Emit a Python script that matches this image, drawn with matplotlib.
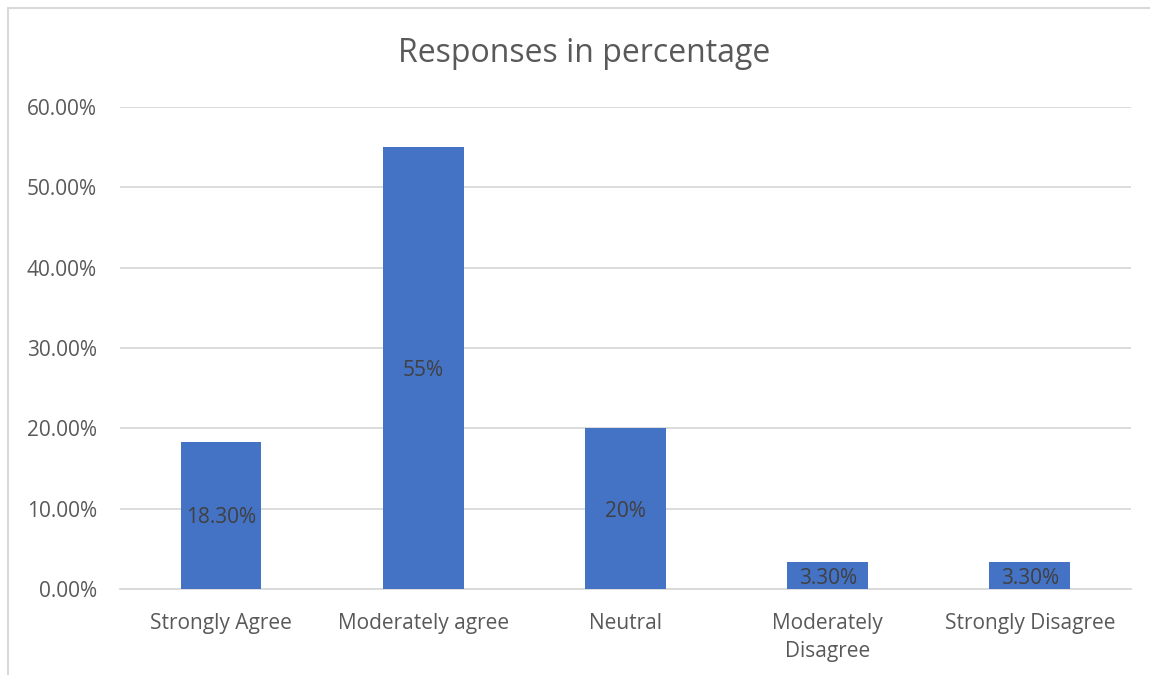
import matplotlib.pyplot as plt
from matplotlib.ticker import PercentFormatter
from matplotlib.patches import Rectangle

categories = ['Strongly Agree', 'Moderately agree', 'Neutral', 'Moderately\nDisagree', 'Strongly Disagree']
values = [0.183, 0.55, 0.20, 0.033, 0.033]
value_labels = ['18.30%', '55%', '20%', '3.30%', '3.30%']
yticks = [0.0, 0.1, 0.2, 0.3, 0.4, 0.5, 0.6]

plt.rcParams['font.family'] = ['Open Sans', 'DejaVu Sans']

fig = plt.figure(figsize=(11.5, 6.75), dpi=100)
ax = fig.add_axes([0.1043, 0.1274, 0.8792, 0.7141])

# chart area border
fig.patches.append(Rectangle((8 / 1150, -0.01), 1.2, 1 - 8 / 675 + 0.01, transform=fig.transFigure,
                             fill=False, edgecolor='#D9D9D9', linewidth=1.5))

x = range(len(categories))
bars = ax.bar(x, values, width=0.4, color='#4472C4', zorder=3)

for b, v, lab in zip(bars, values, value_labels):
    ax.text(b.get_x() + b.get_width() / 2, v / 2, lab, ha='center', va='center_baseline',
            fontsize=15, color='#404040', zorder=4)

ax.set_xlim(-0.5, 4.5)
ax.set_ylim(0, 0.6)
ax.set_yticks(yticks)
ax.yaxis.set_major_formatter(PercentFormatter(1.0, decimals=2))
ax.set_xticks(list(x))
ax.set_xticklabels(categories, linespacing=1.45)
ax.tick_params(axis='both', length=0, labelsize=15, labelcolor='#595959')
ax.tick_params(axis='x', pad=17)
ax.tick_params(axis='y', pad=16.5)
ax.grid(axis='y', color='#D9D9D9', linewidth=1.3, zorder=0)
for s in ['top', 'right', 'left']:
    ax.spines[s].set_visible(False)
ax.spines['bottom'].set_color('#D9D9D9')
ax.spines['bottom'].set_linewidth(1.3)

fig.text(0.508, 0.921, 'Responses in percentage', ha='center', va='center',
         fontsize=23, color='#595959')

fig.savefig('out.png')
